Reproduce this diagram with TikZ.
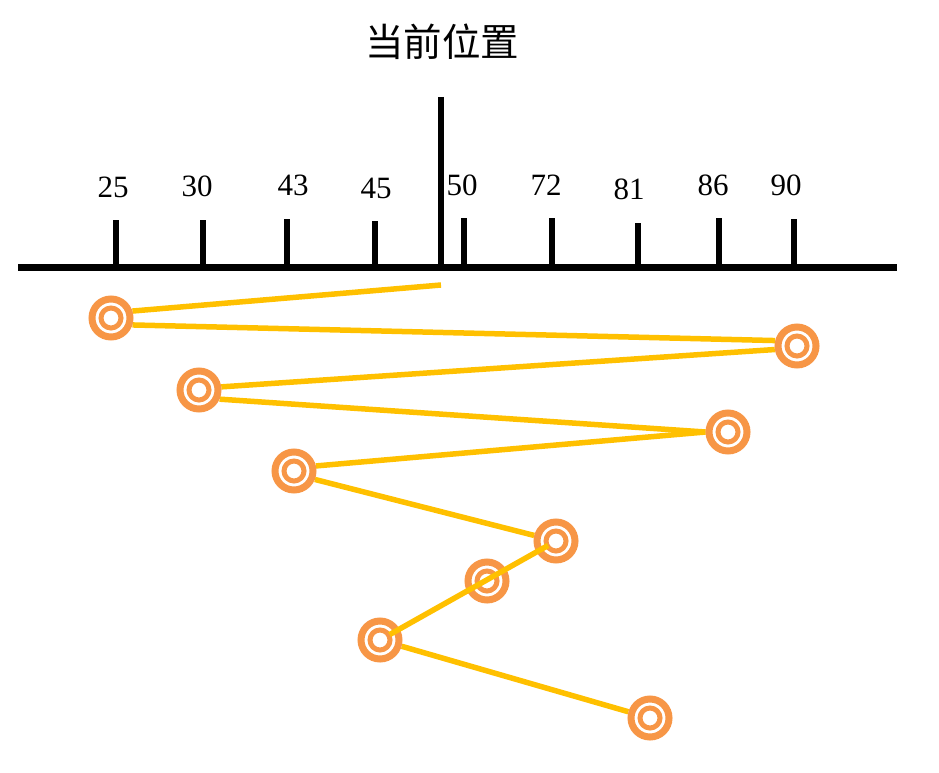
\documentclass[tikz,border=0pt]{standalone}
\usepackage{fontspec}
\setmainfont{Liberation Serif}
\newfontfamily\cjk{Noto Sans CJK SC}
\usetikzlibrary{backgrounds}
\definecolor{trackcol}{HTML}{FFC000}
\definecolor{markcol}{HTML}{F79646}
\begin{document}
\begin{tikzpicture}[x=1pt,y=-1pt,
    track/.style={draw=trackcol,line width=5.5pt},
    marker/.style={circle,draw=markcol,line width=7pt,fill=white,minimum size=38pt,inner sep=0pt,
      path picture={\draw[markcol,line width=5pt] (path picture bounding box.center) circle (10pt);}},
    ticklab/.style={font=\fontsize{31}{31}\selectfont,inner sep=0pt}]
  \useasboundingbox (0,0) rectangle (939,773);
  % title and axis
  \node[font=\fontsize{38.5}{38.5}\selectfont\cjk] (title) at (442,42) {当前位置};
  \draw[line width=7pt] (18,267) -- (897,267);
  \draw[line width=6pt] (441,97) -- (441,267);
  \coordinate (start) at (441,285);
  \foreach \x/\top/\lab/\lx/\ly in {116/220/25/113/187,203/220/30/197/186,287/219/43/293/185,
      375/221/45/376/188,464/218/50/462/185,552/218/72/546/185,638/223/81/629/189,
      719/218/86/713/185,794/219/90/786/185}{
    \draw[line width=6pt] (\x,267) -- (\x,\top);
    \node[ticklab] (lab\lab) at (\lx,\ly) {\lab};
  }
  % requests
  \node[marker] (m1) at (111,318) {};
  \node[marker] (m2) at (797,346) {};
  \node[marker] (m3) at (199,390) {};
  \node[marker] (m4) at (728,432) {};
  \node[marker] (m5) at (294,471) {};
  \node[marker] (m6) at (556,541) {};
  \node[marker] (m7) at (487,581) {};
  \node[marker] (m8) at (380,640) {};
  \node[marker] (m9) at (650,718) {};
  \begin{scope}[on background layer]
    \draw[track] (start) -- (m1.18);
    \draw[track] (m1.-18) -- (m2.166);
    \draw[track] (m2.-171) -- (m3.8);
    \draw[track] (m3.-24) -- (m4.180);
    \draw[track] (m4.180) -- (m5.13);
    \draw[track] (m5.-22) -- (m6);
    \draw[track] (m8) -- (m9);
  \end{scope}
  \draw[track,shorten <=9pt,shorten >=11pt] (m6.center) -- (m8.center);
\end{tikzpicture}
\end{document}
